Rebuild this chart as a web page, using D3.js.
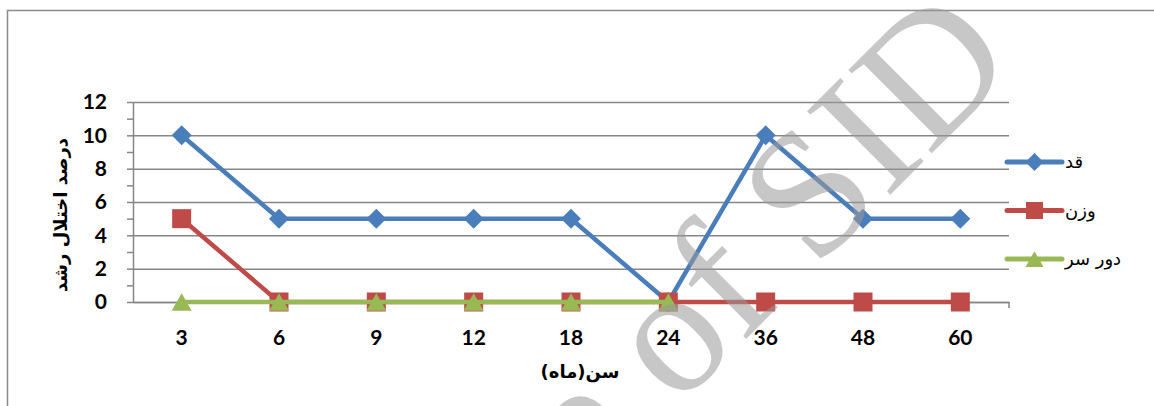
<!DOCTYPE html>
<html>
<head>
<meta charset="utf-8">
<script src="https://cdn.jsdelivr.net/npm/d3@7"></script>
<style>
  body { margin: 0; background: #ffffff; }
  svg { display: block; }
</style>
</head>
<body>
<div id="chart"></div>
<script>
// ages in months (x categories)
const categories = ["3", "6", "9", "12", "18", "24", "36", "48", "60"];
// percent of growth disorder per series
const heightValues = [10, 5, 5, 5, 5, 0, 10, 5, 5];      // قد
const weightValues = [5, 0, 0, 0, 0, 0, 0, 0, 0];        // وزن
const headValues = [0, 0, 0, 0, 0, 0, null, null, null]; // دور سر
const seriesNames = ["قد", "وزن", "دور سر"];
const yTicks = [0, 2, 4, 6, 8, 10, 12];

const W = 1154, H = 406;
// plot area
let margin = {top: 102, right: 145, bottom: 104, left: 133},
    width = W - margin.left - margin.right,
    height = H - margin.top - margin.bottom;

const GRID = "#868686";
const series = [
    {name: seriesNames[0], values: heightValues, color: "#4a7ebb", shape: "diamond"},
    {name: seriesNames[1], values: weightValues, color: "#be4b48", shape: "square"},
    {name: seriesNames[2], values: headValues, color: "#98b954", shape: "triangle"}
];

let svg = d3.select("#chart").append("svg")
    .attr("width", W)
    .attr("height", H);

svg.append("rect").attr("width", W).attr("height", H).attr("fill", "#ffffff");
// outer chart border (runs off the right / bottom edge)
svg.append("rect")
    .attr("x", 7.5).attr("y", 10.5)
    .attr("width", 1300).attr("height", 600)
    .attr("fill", "none")
    .attr("stroke", "#8a8a8a")
    .attr("stroke-width", 1.5);

let x = d3.scaleBand().domain(categories).range([0, width]).padding(0);
let y = d3.scaleLinear().domain([0, 12]).range([height, 0]);

let g = svg.append("g")
    .attr("transform", "translate(" + margin.left + "," + margin.top + ")");

// horizontal gridlines
g.append("g")
    .call(d3.axisLeft(y).tickValues(yTicks).tickSize(-width).tickFormat(""))
    .call(s => s.select(".domain").remove())
    .selectAll("line").attr("stroke", GRID).attr("stroke-width", 1.5);

// minor ticks on y axis
g.append("g")
    .call(d3.axisLeft(y).tickValues(d3.range(1, 12, 2)).tickSize(6).tickFormat(""))
    .call(s => s.select(".domain").remove())
    .selectAll("line").attr("stroke", GRID).attr("stroke-width", 1.5);

// y axis with labels
let yAxisEL = g.append("g")
    .call(d3.axisLeft(y).tickValues(yTicks).tickSize(6).tickPadding(20).tickSizeOuter(0));
yAxisEL.select(".domain").attr("stroke", GRID).attr("stroke-width", 1.5);
yAxisEL.selectAll("line").attr("stroke", GRID).attr("stroke-width", 1.5);
yAxisEL.selectAll("text")
    .attr("fill", "#000")
    .style("font-family", "Lato, 'Open Sans', sans-serif")
    .style("font-weight", "bold")
    .style("font-size", "21px");

// x axis
let xAxisEL = g.append("g")
    .attr("transform", "translate(0," + height + ")")
    .call(d3.axisBottom(x).tickSize(0).tickPadding(28));
xAxisEL.select(".domain").attr("stroke", GRID).attr("stroke-width", 1.5);
xAxisEL.selectAll("text")
    .attr("fill", "#000")
    .style("font-family", "Lato, 'Open Sans', sans-serif")
    .style("font-weight", "bold")
    .style("font-size", "21px");
// tick at the right end of the x axis
g.append("line")
    .attr("x1", width).attr("x2", width)
    .attr("y1", height).attr("y2", height + 6)
    .attr("stroke", GRID).attr("stroke-width", 1.5);

function markerPath(shape, r) {
    if (shape === "diamond") return d3.symbol(d3.symbolSquare, 2 * r * r)();
    if (shape === "square") return d3.symbol(d3.symbolSquare, 4 * r * r)();
    // triangle centred on its bounding box
    let h = r * 1.75;
    return "M0," + (-h / 2) + "L" + r + "," + (h / 2) + "L" + (-r) + "," + (h / 2) + "Z";
}
function markerRot(shape) { return shape === "diamond" ? " rotate(45)" : ""; }

const cx = d => x(d.cat) + x.bandwidth() / 2;

let line = d3.line()
    .defined(d => d.v !== null)
    .x(cx)
    .y(d => y(d.v));

series.forEach(function (s) {
    let pts = categories.map((c, i) => ({cat: c, v: s.values[i]}));
    g.append("path")
        .datum(pts)
        .attr("d", line)
        .attr("fill", "none")
        .attr("stroke", s.color)
        .attr("stroke-width", 4.5)
        .attr("stroke-linejoin", "round");
    let r = s.shape === "square" ? 9.5 : 10;
    g.selectAll(".m-" + s.shape)
        .data(pts.filter(d => d.v !== null))
        .enter().append("path")
        .attr("d", markerPath(s.shape, r))
        .attr("transform", d => "translate(" + cx(d) + "," + y(d.v) + ")" + markerRot(s.shape))
        .attr("fill", s.color);
});

// legend
let legend = svg.append("g").attr("transform", "translate(1007,162)");
series.forEach(function (s, i) {
    let row = legend.append("g").attr("transform", "translate(0," + (i * 48.5) + ")");
    row.append("line")
        .attr("x1", 0).attr("x2", 55)
        .attr("stroke", s.color).attr("stroke-width", 5).attr("stroke-linecap", "round");
    let r = s.shape === "square" ? 8.5 : 9;
    row.append("path")
        .attr("d", markerPath(s.shape, r))
        .attr("transform", "translate(27.5,0)" + markerRot(s.shape))
        .attr("fill", s.color);
    row.append("text")
        .attr("x", 58).attr("y", 6)
        .style("font-family", "'DejaVu Sans', sans-serif")
        .style("font-size", "18px")
        .attr("fill", "#000")
        .text(s.name);
});

// axis titles
svg.append("text")
    .attr("transform", "translate(67,215) rotate(-90)")
    .attr("text-anchor", "middle")
    .attr("direction", "rtl")
    .style("font-family", "'DejaVu Sans', sans-serif")
    .style("font-weight", "bold")
    .style("font-size", "18px")
    .text("درصد اختلال رشد");

svg.append("text")
    .attr("x", 580).attr("y", 378)
    .attr("text-anchor", "middle")
    .attr("direction", "rtl")
    .style("font-family", "'DejaVu Sans', sans-serif")
    .style("font-weight", "bold")
    .style("font-size", "18px")
    .text("سن(ماه)");

// watermark over the chart
svg.append("text")
    .attr("transform", "translate(1020,65) rotate(-45)")
    .attr("text-anchor", "end")
    .style("font-family", "'Liberation Serif', 'DejaVu Serif', serif")
    .style("font-size", "180px")
    .attr("fill", "#999999")
    .attr("fill-opacity", 0.55)
    .text("Archive of SID");
</script>
</body>
</html>
